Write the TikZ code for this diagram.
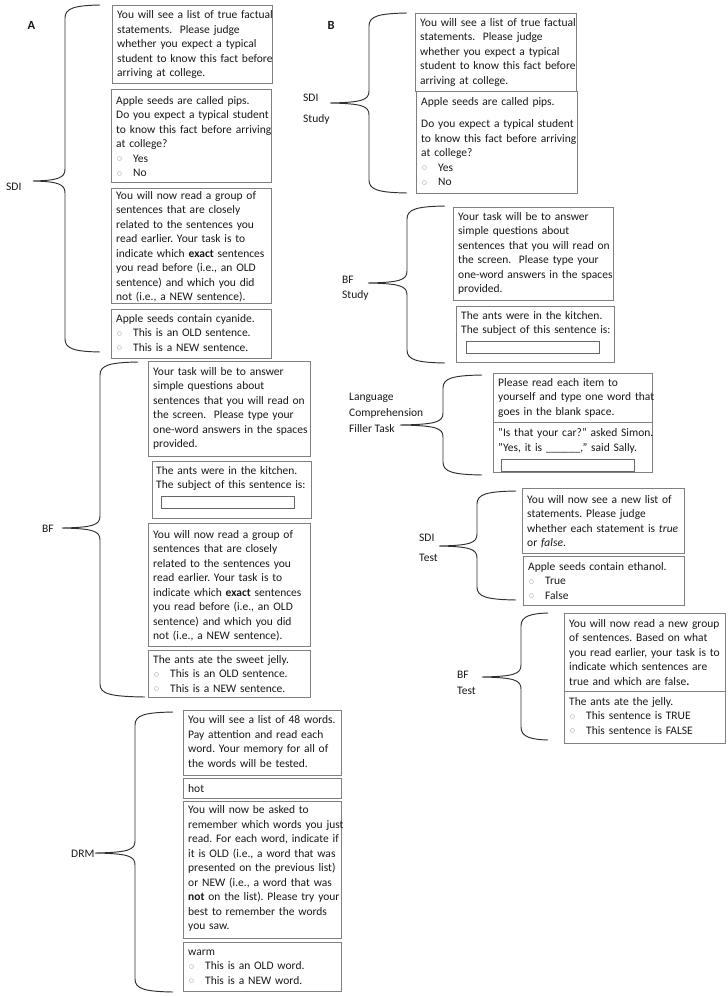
\documentclass[tikz,border=0pt]{standalone}
\usepackage{fontspec}
\setmainfont{Carlito}
\newfontfamily\djv{DejaVu Sans}
\usetikzlibrary{fit}
\frenchspacing
\definecolor{boxgray}{RGB}{128,128,128}
\definecolor{ink}{RGB}{25,25,25}
\newcommand\bul{\hspace*{1pt}\makebox[16pt][l]{\raisebox{1.4pt}{\color{boxgray}\djv\fontsize{5.5}{5.5}\selectfont ○}}}
\newcommand\brc[7]{%
  \draw[bracestyle] (#1,#4) .. controls ({#2+10},{#4+0.5}) and (#2,{#4+3}) .. (#2,{#4+13})
   -- (#2,{#5-12}) .. controls (#2,{#5-3}) and ({#2-7},{#5-0.6}) .. (#3,#5)
   .. controls ({#2-7},{#5+0.6}) and (#2,{#5+3}) .. (#2,{#5+12})
   -- (#2,{#6-13}) .. controls (#2,{#6-3}) and ({#2+10},{#6-0.5}) .. (#7,#6);}
\begin{document}
\begin{tikzpicture}[x=1pt,y=-1pt,
  box/.style={draw=boxgray,line width=0.9pt,inner sep=0pt},
  inbox/.style={draw=boxgray!80!black,line width=0.8pt,inner sep=0pt},
  txt/.style={anchor=base west,inner sep=0pt,text width=200pt,align=left,text=ink,font=\fontsize{11.5}{14.5}\selectfont\frenchspacing},
  lab/.style={anchor=base west,inner sep=0pt,text=ink,font=\fontsize{11.5}{14.5}\selectfont},
  panel/.style={anchor=center,inner sep=0pt,text=ink,font=\fontsize{12.5}{14}\selectfont\bfseries},
  bracestyle/.style={draw=ink!90,line width=0.95pt}]
\fill[white] (0,0) rectangle (728,996);
\useasboundingbox (0,0) rectangle (728,996);

% ---------------- Panel A ----------------
\node[panel] (pA) at (31.5,25) {A};

\node[box,fit={(112,5)(272,83)}] (a1) {};
\node[txt] (a1t) at (117,18.5) {You will see a list of true factual\\ statements.\ \ Please judge\\ whether you expect a typical\\ student to know this fact before\\ arriving at college.};

\node[box,fit={(111,89)(271,182)}] (a2) {};
\node[txt] (a2t) at (116,104) {Apple seeds are called pips.\\ Do you expect a typical student\\ to know this fact before arriving\\ at college?\\ \bul Yes\\ \bul No};

\node[box,fit={(111,188)(271,303)}] (a3) {};
\node[txt] (a3t) at (116,199) {You will now read a group of\\ sentences that are closely\\ related to the sentences you\\ read earlier. Your task is to\\ indicate which \textbf{exact} sentences\\ you read before (i.e., an OLD\\ sentence) and which you did\\ not (i.e., a NEW sentence).};

\node[box,fit={(111,309)(271,358)}] (a4) {};
\node[txt] (a4t) at (116,322) {Apple seeds contain cyanide.\\ \bul This is an OLD sentence.\\ \bul This is a NEW sentence.};

\node[lab] (lsdi) at (6,190) {SDI};
\brc{100}{65}{33}{5}{181}{352}{100}

\node[box,fit={(148,361)(310,456)}] (b1) {};
\node[txt] (b1t) at (153,375) {Your task will be to answer\\ simple questions about\\ sentences that you will read on\\ the screen.\ \ Please type your\\ one-word answers in the spaces\\ provided.};

\node[box,fit={(152,461)(311,518)}] (b2) {};
\node[txt] (b2t) at (156,474) {The ants were in the kitchen.\\ The subject of this sentence is:};
\node[inbox,fit={(161,496)(294,508)}] (b2in) {};

\node[box,fit={(148,523)(310,646)}] (b3) {};
\node[txt] (b3t) at (153,538) {You will now read a group of\\ sentences that are closely\\ related to the sentences you\\ read earlier. Your task is to\\ indicate which \textbf{exact} sentences\\ you read before (i.e., an OLD\\ sentence) and which you did\\ not (i.e., a NEW sentence).};

\node[box,fit={(148,650)(310,697)}] (b4) {};
\node[txt] (b4t) at (153,663) {The ants ate the sweet jelly.\\ \bul This is an OLD sentence.\\ \bul This is a NEW sentence.};

\node[lab] (lbf) at (42,532) {BF};
\brc{138}{100}{62}{362}{528}{697}{145}

\node[box,fit={(183,710)(341,775)}] (d1) {};
\node[txt] (d1t) at (188,723.5) {You will see a list of 48 words.\\ Pay attention and read each\\ word. Your memory for all of\\ the words will be tested.};

\node[box,fit={(183,778)(341,798)}] (d2) {};
\node[txt] (d2t) at (188,792) {hot};

\node[box,fit={(183,801)(341,938)}] (d3) {};
\node[txt] (d3t) at (188,813.5) {You will now be asked to\\ remember which words you just\\ read. For each word, indicate if\\ it is OLD (i.e., a word that was\\ presented on the previous list)\\ or NEW (i.e., a word that was\\ \textbf{not} on the list). Please try your\\ best to remember the words\\ you saw.};

\node[box,fit={(183,942)(341,991)}] (d4) {};
\node[txt] (d4t) at (188,955) {warm\\ \bul This is an OLD word.\\ \bul This is a NEW word.};

\node[lab] (ldrm) at (71,857) {DRM};
\brc{173}{135}{95}{712}{853}{992}{173}

% ---------------- Panel B ----------------
\node[panel] (pB) at (331,25) {B};

\node[box,fit={(415,13)(576,91)}] (s1) {};
\node[txt] (s1t) at (420,26) {You will see a list of true factual\\ statements.\ \ Please judge\\ whether you expect a typical\\ student to know this fact before\\ arriving at college.};

\node[box,fit={(416,91)(577,193)}] (s2) {};
\node[txt] (s2t) at (421,105) {Apple seeds are called pips.\\[8pt] Do you expect a typical student\\ to know this fact before arriving\\ at college?\\ \bul Yes\\ \bul No};

\node[lab] (lsdis1) at (303,101) {SDI};
\node[lab] (lsdis2) at (303,122) {Study};
\brc{407}{369}{330}{13}{103}{193}{407}

\node[box,fit={(453,207)(613,300)}] (f1) {};
\node[txt] (f1t) at (458,220) {Your task will be to answer\\ simple questions about\\ sentences that you will read on\\ the screen.\ \ Please type your\\ one-word answers in the spaces\\ provided.};

\node[box,fit={(456,306)(614,362)}] (f2) {};
\node[txt] (f2t) at (461,319) {The ants were in the kitchen.\\ The subject of this sentence is:};
\node[inbox,fit={(466,341)(599,353)}] (f2in) {};

\node[lab] (lbfs1) at (342,283) {BF};
\node[lab] (lbfs2) at (342,298) {Study};
\brc{445}{407}{368}{206}{283}{363}{445}

\node[box,fit={(493,373)(652,422)}] (l1) {};
\node[txt] (l1t) at (498,386) {Please read each item to\\ yourself and type one word that\\ goes in the blank space.};

\node[box,fit={(493,422)(652,472)}] (l2) {};
\node[txt] (l2t) at (498,436.5) {\symbol{34}Is that your car?\symbol{34} asked Simon.\\ \symbol{34}Yes, it is \_\_\_\_\_\_,\symbol{34} said Sally.};
\node[inbox,fit={(501,459)(634,471)}] (l2in) {};

\node[lab] (ll1) at (349,400) {Language};
\node[lab] (ll2) at (349,416) {Comprehension};
\node[lab] (ll3) at (349,432.5) {Filler Task};
\brc{482}{443}{400}{375}{425}{475}{482}

\node[box,fit={(522,488)(684,553)}] (t1) {};
\node[txt] (t1t) at (527,503) {You will now see a new list of\\ statements. Please judge\\ whether each statement is \textit{true}\\ or \textit{false}.};

\node[box,fit={(523,556)(684,605)}] (t2) {};
\node[txt] (t2t) at (528,570) {Apple seeds contain ethanol.\\ \bul True\\ \bul False};

\node[lab] (lst1) at (419,541) {SDI};
\node[lab] (lst2) at (419,561) {Test};
\brc{516}{477}{439}{491}{546}{600}{516}

\node[box,fit={(564,613)(725,691)}] (u1) {};
\node[txt] (u1t) at (569,627) {You will now read a new group\\ of sentences. Based on what\\ you read earlier, your task is to\\ indicate which sentences are\\ true and which are false\textbf{.}};

\node[box,fit={(564,691)(725,743)}] (u2) {};
\node[txt] (u2t) at (569,705) {The ants ate the jelly.\\ \bul This sentence is TRUE\\ \bul This sentence is FALSE};

\node[lab] (lbt1) at (457,678) {BF};
\node[lab] (lbt2) at (457,694) {Test};
\brc{548}{521}{482}{613}{677}{740}{548}
\end{tikzpicture}
\end{document}
